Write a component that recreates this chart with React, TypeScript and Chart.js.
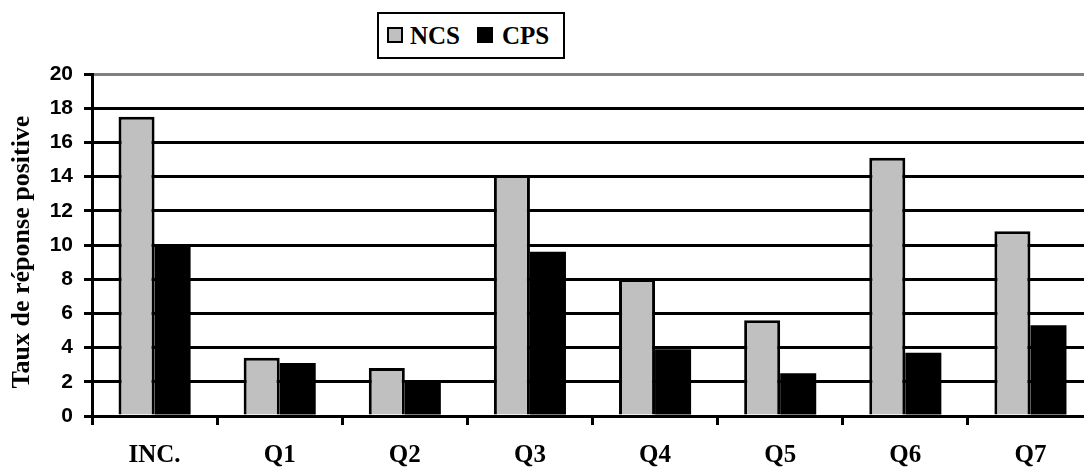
import React, { useEffect, useRef } from 'react';
import { Chart, registerables } from 'chart.js';

Chart.register(...registerables);

const categories = ['INC.', 'Q1', 'Q2', 'Q3', 'Q4', 'Q5', 'Q6', 'Q7'];
const ncsValues = [17.5, 3.4, 2.8, 14.1, 8.0, 5.6, 15.1, 10.8];
const cpsValues = [10.0, 3.1, 2.1, 9.6, 3.9, 2.5, 3.7, 5.3];
const seriesNames = ['NCS', 'CPS'];
const yMin = 0;
const yMax = 20;
const yStep = 2;
const yTitle = 'Taux de réponse positive';

const SERIF = '"Liberation Serif", "Times New Roman", serif';
const SANS = '"Liberation Sans", Arial, sans-serif';

const yTitlePlugin = {
  id: 'yTitlePlugin',
  afterDraw(chart: any) {
    const ctx = chart.ctx;
    ctx.save();
    ctx.translate(22, 252);
    ctx.rotate(-Math.PI / 2);
    ctx.font = `bold 26px ${SERIF}`;
    ctx.fillStyle = '#000000';
    ctx.textAlign = 'center';
    ctx.textBaseline = 'middle';
    ctx.fillText(yTitle, 0, 0);
    ctx.restore();
  },
};

export default function App() {
  const canvasRef = useRef<HTMLCanvasElement | null>(null);

  useEffect(() => {
    const canvas = canvasRef.current;
    if (!canvas) return;
    const chart = new Chart(canvas, {
      type: 'bar',
      data: {
        labels: categories,
        datasets: [
          {
            label: seriesNames[0],
            data: ncsValues,
            backgroundColor: '#C0C0C0',
            borderColor: '#000000',
            borderWidth: 3,
            categoryPercentage: 0.576,
            barPercentage: 1,
          },
          {
            label: seriesNames[1],
            data: cpsValues,
            backgroundColor: '#000000',
            borderColor: '#000000',
            borderWidth: 0,
            categoryPercentage: 0.576,
            barPercentage: 1,
          },
        ],
      },
      plugins: [yTitlePlugin],
      options: {
        responsive: false,
        animation: false,
        devicePixelRatio: 1,
        layout: { padding: { top: 74, right: 0, bottom: 0, left: 0 } },
        plugins: {
          legend: { display: false },
          tooltip: { enabled: false },
          title: { display: false },
        },
        scales: {
          x: {
            offset: true,
            grid: {
              offset: true,
              drawOnChartArea: false,
              drawTicks: true,
              tickLength: 9,
              tickWidth: 3,
              tickColor: '#000000',
              lineWidth: 3,
              color: '#000000',
            },
            border: { display: true, color: '#000000', width: 3 },
            ticks: {
              color: '#000000',
              padding: 16,
              font: { family: SERIF, size: 25, weight: 'bold' },
              maxRotation: 0,
              autoSkip: false,
            },
            afterFit: (scale: any) => {
              scale.height = 52;
            },
          },
          y: {
            min: yMin,
            max: yMax,
            grid: {
              drawOnChartArea: true,
              drawTicks: true,
              tickLength: 8,
              tickWidth: 3,
              tickColor: '#000000',
              lineWidth: 3,
              color: (ctx: any) => (ctx.tick && ctx.tick.value === yMax ? '#808080' : '#000000'),
            },
            border: { display: true, color: '#000000', width: 3 },
            ticks: {
              stepSize: yStep,
              color: '#000000',
              padding: 11,
              font: { family: SANS, size: 21, weight: 'bold' },
            },
            title: { display: false },
            afterFit: (scale: any) => {
              scale.width = 92;
            },
          },
        },
      },
    });
    return () => chart.destroy();
  }, []);

  const legendText: React.CSSProperties = {
    position: 'absolute',
    fontFamily: SERIF,
    fontWeight: 'bold',
    fontSize: 25,
    lineHeight: '25px',
    color: '#000',
    whiteSpace: 'nowrap',
  };

  return (
    <div
      style={{
        position: 'fixed',
        left: 0,
        top: 0,
        width: 1084,
        height: 468,
        overflow: 'hidden',
        background: '#fff',
      }}
    >
      <canvas ref={canvasRef} width={1093} height={468} style={{ position: 'absolute', left: 0, top: 0 }} />
      <div
        style={{
          position: 'absolute',
          left: 377,
          top: 12,
          width: 188,
          height: 47,
          boxSizing: 'border-box',
          border: '2px solid #000',
          background: '#fff',
        }}
      />
      <div
        style={{
          position: 'absolute',
          left: 387,
          top: 27,
          width: 16,
          height: 16,
          boxSizing: 'border-box',
          border: '2px solid #000',
          background: '#C0C0C0',
        }}
      />
      <div style={{ ...legendText, left: 410, top: 22.6 }}>{seriesNames[0]}</div>
      <div
        style={{
          position: 'absolute',
          left: 477,
          top: 27,
          width: 16,
          height: 16,
          background: '#000',
        }}
      />
      <div style={{ ...legendText, left: 502, top: 22.6 }}>{seriesNames[1]}</div>
    </div>
  );
}
